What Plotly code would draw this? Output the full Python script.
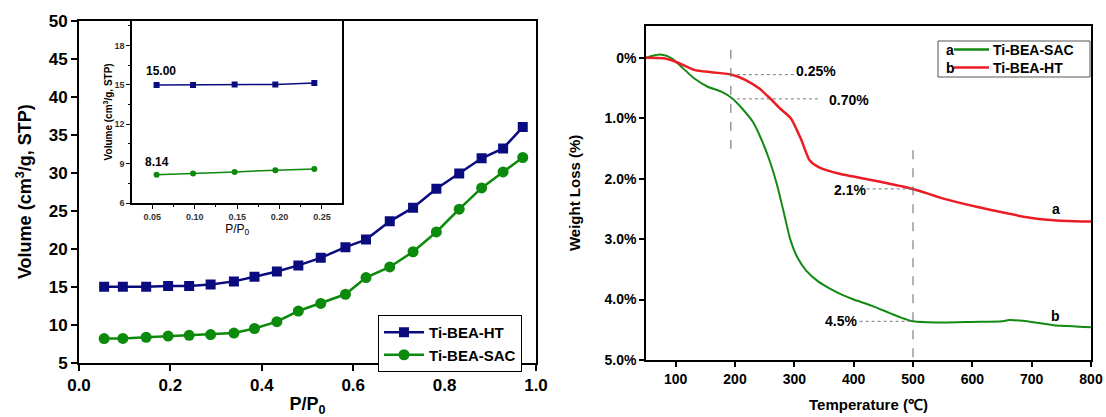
import plotly.graph_objects as go

# ---------------- Left chart: N2 adsorption isotherms ----------------
pp = [0.055, 0.096, 0.147, 0.195, 0.241, 0.288, 0.339, 0.384, 0.433, 0.480,
      0.529, 0.583, 0.628, 0.680, 0.731, 0.782, 0.832, 0.881, 0.928, 0.971]
vol_ht = [15.0, 15.0, 15.0, 15.1, 15.1, 15.3, 15.7, 16.3, 17.0, 17.8,
          18.8, 20.2, 21.2, 23.6, 25.4, 27.9, 29.9, 31.9, 33.2, 36.0]
vol_sac = [8.17, 8.2, 8.35, 8.5, 8.6, 8.7, 8.9, 9.5, 10.4, 11.8,
           12.8, 14.0, 16.2, 17.6, 19.6, 22.2, 25.2, 28.0, 30.1, 32.0]

# inset (low pressure region)
inset_pp = [0.055, 0.098, 0.147, 0.195, 0.241]
inset_ht = [15.0, 15.0, 15.03, 15.04, 15.15]
inset_sac = [8.16, 8.24, 8.37, 8.5, 8.6]
inset_labels = ["15.00", "8.14"]
inset_label_x = [0.060, 0.056]
inset_label_y = [16.1, 9.1]

# ---------------- Right chart: TGA weight loss ----------------
temp_sac = [50, 60, 74, 85, 95, 113, 131, 154, 177, 195, 212, 230, 244, 259, 271,
            282, 293, 305, 320, 340, 360, 380, 400, 430, 460, 480, 500, 550, 600,
            650, 662, 700, 740, 770, 800]
wl_sac = [0, -0.03, -0.055, -0.03, 0.02, 0.18, 0.34, 0.48, 0.56, 0.67, 0.84, 1.06,
          1.34, 1.72, 2.11, 2.55, 3.0, 3.3, 3.52, 3.7, 3.82, 3.92, 4.0, 4.1, 4.22,
          4.3, 4.36, 4.38, 4.37, 4.36, 4.34, 4.37, 4.43, 4.44, 4.46]
temp_ht = [50, 80, 101, 131, 160, 195, 218, 241, 259, 276, 294, 311, 326, 341, 376,
           434, 500, 551, 609, 656, 700, 726, 760, 800]
wl_ht = [0, 0.01, 0.07, 0.2, 0.24, 0.28, 0.37, 0.51, 0.67, 0.84, 1.0, 1.34, 1.7,
         1.81, 1.92, 2.03, 2.17, 2.33, 2.47, 2.57, 2.65, 2.68, 2.7, 2.71]

wl_ticks = [0, 1, 2, 3, 4, 5]
wl_ticktext = ["0%", "1.0%", "2.0%", "3.0%", "4.0%", "5.0%"]

# annotation guides
guide_labels = ["0.25%", "0.70%", "2.1%", "4.5%"]
guide_levels = [0.28, 0.68, 2.17, 4.36]
guide_x0 = [193, 193, 422, 410]
guide_x1 = [300, 343, 500, 500]
guide_text_x = [336, 392, 393, 378]
guide_text_y = [0.22, 0.70, 2.19, 4.35]
vline_x = [193, 500]
vline_y0 = [-0.13, 1.53]
vline_y1 = [1.64, 5.0]
curve_tags = ["a", "b"]
curve_tag_x = [741, 741]
curve_tag_y = [2.5, 4.28]

NAVY = "#0b0b80"
GREEN_L = "#0b8a0b"
GREEN = "#128a12"
RED = "#ec1c24"
FONT = "Arial, Liberation Sans, sans-serif"

fig = go.Figure()

fig.add_trace(go.Scatter(x=pp, y=vol_ht, mode="lines+markers", name="Ti-BEA-HT",
                         line=dict(color=NAVY, width=2.5),
                         marker=dict(symbol="square", size=10, color=NAVY),
                         xaxis="x", yaxis="y"))
fig.add_trace(go.Scatter(x=pp, y=vol_sac, mode="lines+markers", name="Ti-BEA-SAC",
                         line=dict(color=GREEN_L, width=2.5),
                         marker=dict(symbol="circle", size=11, color=GREEN_L),
                         xaxis="x", yaxis="y"))
fig.add_trace(go.Scatter(x=inset_pp, y=inset_ht, mode="lines+markers",
                         line=dict(color=NAVY, width=1.5),
                         marker=dict(symbol="square", size=6, color=NAVY),
                         xaxis="x3", yaxis="y3", showlegend=False))
fig.add_trace(go.Scatter(x=inset_pp, y=inset_sac, mode="lines+markers",
                         line=dict(color=GREEN_L, width=1.5),
                         marker=dict(symbol="circle", size=6, color=GREEN_L),
                         xaxis="x3", yaxis="y3", showlegend=False))
fig.add_trace(go.Scatter(x=temp_sac, y=wl_sac, mode="lines",
                         line=dict(color=GREEN, width=2.0, shape="spline", smoothing=0.6),
                         xaxis="x2", yaxis="y2", showlegend=False))
fig.add_trace(go.Scatter(x=temp_ht, y=wl_ht, mode="lines",
                         line=dict(color=RED, width=2.5, shape="spline", smoothing=0.6),
                         xaxis="x2", yaxis="y2", showlegend=False))

W, H = 1106, 417
ML, MR, MT, MB = 60, 10, 10, 50
PW, PH = W - ML - MR, H - MT - MB


def px(x):
    return (x - ML) / PW


def py(y):
    return (H - MB - y) / PH


axis_common = dict(showgrid=False, zeroline=False, showline=True, linecolor="black",
                   ticks="outside", tickcolor="black", automargin=False)

shapes = []
annotations = []

for lvl, x0, x1 in zip(guide_levels, guide_x0, guide_x1):
    shapes.append(dict(type="line", xref="x2", yref="y2", x0=x0, x1=x1, y0=lvl, y1=lvl,
                       line=dict(color="#777", width=1, dash="dot")))
for vx, y0, y1 in zip(vline_x, vline_y0, vline_y1):
    shapes.append(dict(type="line", xref="x2", yref="y2", x0=vx, x1=vx, y0=y0, y1=y1,
                       line=dict(color="#666", width=1, dash="dash")))
for t, tx, ty in zip(guide_labels, guide_text_x, guide_text_y):
    annotations.append(dict(text=t, xref="x2", yref="y2", x=tx, y=ty, showarrow=False,
                            font=dict(family=FONT, size=14, color="black", weight="bold")))
for t, tx, ty in zip(curve_tags, curve_tag_x, curve_tag_y):
    annotations.append(dict(text=t, xref="x2", yref="y2", x=tx, y=ty, showarrow=False,
                            font=dict(family=FONT, size=14, color="black", weight="bold")))
for t, tx, ty in zip(inset_labels, inset_label_x, inset_label_y):
    annotations.append(dict(text=t, xref="x3", yref="y3", x=tx, y=ty, showarrow=False,
                            font=dict(family=FONT, size=12, color="black", weight="bold")))

# manual legend for TGA
shapes.append(dict(type="rect", xref="paper", yref="paper", x0=px(938), x1=px(1090),
                   y0=py(77), y1=py(41), line=dict(color="#555", width=1), fillcolor="white",
                   layer="below"))
leg_names = ["Ti-BEA-SAC", "Ti-BEA-HT"]
leg_colors = [GREEN, RED]
for i, (nm, col, tag) in enumerate(zip(leg_names, leg_colors, ["a", "b"])):
    yy = 49.5 + i * 18
    annotations.append(dict(text=tag, xref="paper", yref="paper", x=px(944), y=py(yy),
                            xanchor="left", yanchor="middle", showarrow=False,
                            font=dict(family=FONT, size=14, color="black", weight="bold")))
    shapes.append(dict(type="line", xref="paper", yref="paper", x0=px(954), x1=px(989),
                       y0=py(yy), y1=py(yy), line=dict(color=col, width=2.5)))
    annotations.append(dict(text=nm, xref="paper", yref="paper", x=px(991), y=py(yy),
                            xanchor="left", yanchor="middle", showarrow=False,
                            font=dict(family=FONT, size=14, color="black", weight="bold")))

fig.update_layout(
    width=W, height=H,
    margin=dict(l=ML, r=MR, t=MT, b=MB, autoexpand=False),
    paper_bgcolor="white", plot_bgcolor="white",
    font=dict(family=FONT, color="black"),
    xaxis=dict(**axis_common, domain=[px(79), px(536)], range=[0, 1], dtick=0.2,
               tickformat=".1f", linewidth=2, mirror=True, ticklen=6, tickwidth=2,
               tickfont=dict(size=17, weight="bold"),
               title=dict(text="P/P<sub>0</sub>", font=dict(size=18, weight="bold"), standoff=4),
               anchor="y"),
    yaxis=dict(**axis_common, domain=[py(362.7), py(20.7)], range=[5, 50], dtick=5,
               linewidth=2, mirror=True, ticklen=6, tickwidth=2,
               tickfont=dict(size=17, weight="bold"),
               title=dict(text="Volume (cm<sup>3</sup>/g, STP)", font=dict(size=18, weight="bold"),
                          standoff=12),
               anchor="x"),
    xaxis3=dict(**axis_common, domain=[px(132), px(342.3)], range=[0.026, 0.274],
                tickvals=[0.05, 0.10, 0.15, 0.20, 0.25],
                ticktext=["0.05", "0.10", "0.15", "0.20", "0.25"],
                linewidth=1.5, mirror=True, ticklen=4, tickwidth=1,
                minor=dict(ticks="outside", tickvals=[0.075, 0.125, 0.175, 0.225], ticklen=2,
                           tickcolor="black"),
                tickfont=dict(size=9, weight="bold", color="#333"),
                title=dict(text="P/P<sub>0</sub>", font=dict(size=12), standoff=4),
                anchor="y3"),
    yaxis3=dict(**axis_common, domain=[py(203), py(20.7)], range=[6, 19.9],
                tickvals=[6, 9, 12, 15, 18], linewidth=1.5, mirror=True, ticklen=4, tickwidth=1,
                minor=dict(ticks="outside", tickvals=[7.5, 10.5, 13.5, 16.5, 19.5], ticklen=2,
                           tickcolor="black"),
                tickfont=dict(size=9, weight="bold", color="#333"),
                title=dict(text="Volume (cm<sup>3</sup>/g, STP)", font=dict(size=10, weight="bold"),
                           standoff=0),
                anchor="x3"),
    xaxis2=dict(**axis_common, domain=[px(646), px(1091)], range=[50, 800],
                tickvals=[100, 200, 300, 400, 500, 600, 700, 800],
                linewidth=1.5, mirror=True, ticklen=5, tickwidth=1.5,
                tickfont=dict(size=14, weight="bold"),
                title=dict(text="Temperature (℃)", font=dict(size=15, weight="bold"), standoff=14),
                anchor="y2"),
    yaxis2=dict(**axis_common, domain=[py(360), py(25.7)], range=[5.0, -0.53],
                tickvals=wl_ticks, ticktext=wl_ticktext,
                linewidth=1.5, mirror=True, ticklen=5, tickwidth=1.5,
                tickfont=dict(size=14, weight="bold"),
                title=dict(text="Weight Loss (%)", font=dict(size=15, weight="bold"), standoff=20),
                anchor="x2"),
    legend=dict(x=px(378), y=py(315), xanchor="left", yanchor="top",
                bordercolor="black", borderwidth=1, bgcolor="white",
                font=dict(size=15, weight="bold"), tracegroupgap=0, itemwidth=40),
    shapes=shapes,
    annotations=annotations,
)

fig.write_html("out.html", config={"displayModeBar": False},
               post_script="document.body.style.margin='0';document.body.style.padding='0';")
